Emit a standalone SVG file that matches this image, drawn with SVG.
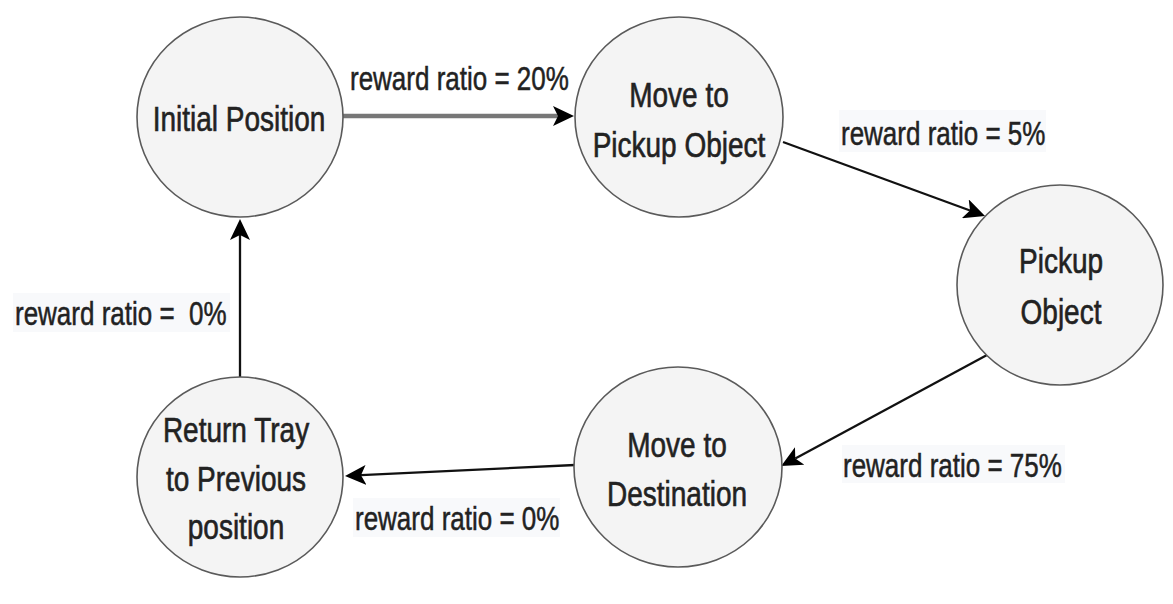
<svg xmlns="http://www.w3.org/2000/svg" width="1173" height="604" viewBox="0 0 1173 604">
<style>
.node{fill:#f4f4f4;stroke:#5a5a5a;stroke-width:1.6}
.nt{font-family:"Liberation Sans",Arial,sans-serif;font-size:28px;fill:#222;stroke:#222;stroke-width:0.5;text-anchor:middle}
.lt{font-family:"Liberation Sans",Arial,sans-serif;font-size:26px;fill:#222;stroke:#222;stroke-width:0.4;white-space:pre}
.lbg{fill:#f8f9fb}
.edge{fill:none;stroke:#111;stroke-width:2.3}
.thick{fill:none;stroke:#777;stroke-width:4.5}
</style>
<defs>
<marker id="arr" viewBox="0 0 21 20" markerWidth="21" markerHeight="20" refX="5" refY="10" orient="auto" markerUnits="userSpaceOnUse">
<path d="M0,0 L21,10 L0,20 L5,10 Z" fill="#000"/>
</marker>
</defs>
<rect width="1173" height="604" fill="#fff"/>
<g id="connectors">
<path class="thick" d="M343,116 L558,116" marker-end="url(#arr)"/>
<path class="edge" d="M783,142 L970,210.5" marker-end="url(#arr)"/>
<path class="edge" d="M987,355 L795.3,458.4" marker-end="url(#arr)"/>
<path class="edge" d="M575,465 L361,475.2" marker-end="url(#arr)"/>
<path class="edge" d="M240,378 L240,235" marker-end="url(#arr)"/>
</g>
<g id="labels">
<text class="lt" transform="translate(350,90) scale(1,1.27)">reward ratio = 20%</text>
<rect class="lbg" x="839" y="110" width="207" height="42"/>
<text class="lt" transform="translate(841,145) scale(1,1.27)">reward ratio = 5%</text>
<rect class="lbg" x="842" y="445" width="223" height="38"/>
<text class="lt" transform="translate(843,477) scale(1,1.27)">reward ratio = 75%</text>
<rect class="lbg" x="13" y="293" width="217" height="39"/>
<text class="lt" transform="translate(15,325) scale(1,1.27)">reward ratio =  0%</text>
<rect class="lbg" x="353" y="498" width="207" height="39"/>
<text class="lt" transform="translate(355,530) scale(1,1.27)">reward ratio = 0%</text>
</g>
<g id="initial-position">
<ellipse class="node" cx="240" cy="117" rx="103" ry="100"/>
<text class="nt" transform="translate(239,131) scale(1,1.27)">Initial Position</text>
</g>
<g id="move-to-pickup">
<ellipse class="node" cx="679" cy="117" rx="104" ry="100"/>
<text class="nt" transform="translate(679,107) scale(1,1.27)"><tspan x="0" y="0">Move to</tspan><tspan x="0" y="39.4">Pickup Object</tspan></text>
</g>
<g id="pickup-object">
<ellipse class="node" cx="1060" cy="285" rx="103" ry="100"/>
<text class="nt" transform="translate(1061,273) scale(1,1.27)"><tspan x="0" y="0">Pickup</tspan><tspan x="0" y="40.2">Object</tspan></text>
</g>
<g id="move-to-destination">
<ellipse class="node" cx="678" cy="467" rx="104" ry="100"/>
<text class="nt" transform="translate(677,457) scale(1,1.27)"><tspan x="0" y="0">Move to</tspan><tspan x="0" y="38.6">Destination</tspan></text>
</g>
<g id="return-tray">
<ellipse class="node" cx="240" cy="477" rx="103" ry="100"/>
<text class="nt" transform="translate(236,442) scale(1,1.27)"><tspan x="0" y="0">Return Tray</tspan><tspan x="0" y="38.6">to Previous</tspan><tspan x="0" y="76.4">position</tspan></text>
</g>
</svg>
